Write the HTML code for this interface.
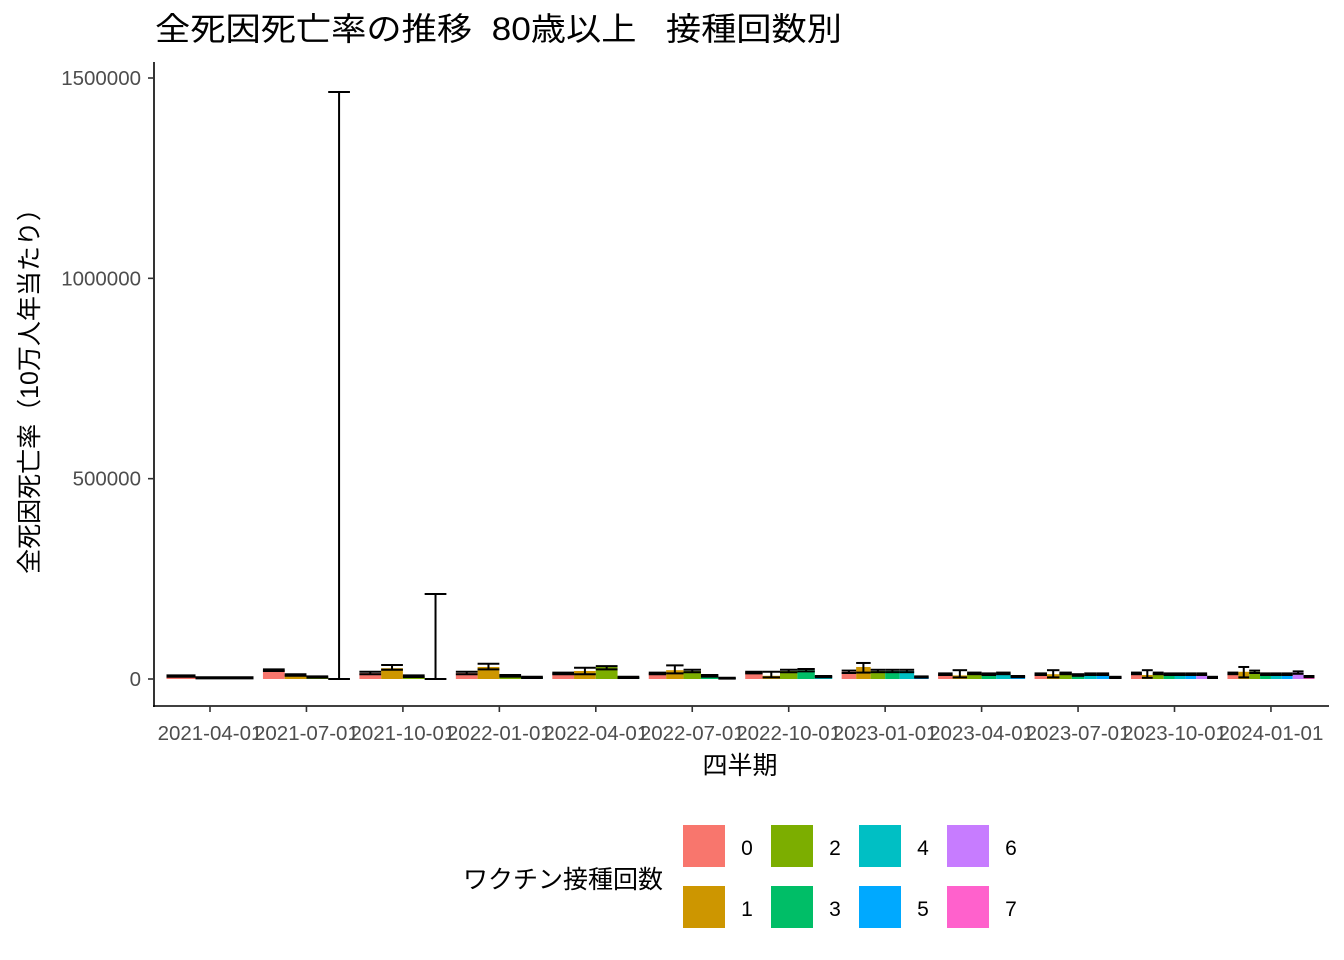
<!DOCTYPE html>
<html><head><meta charset="utf-8">
<style>
html,body{margin:0;padding:0;background:#fff;}
svg{display:block;font-family:"Liberation Sans","Noto Sans CJK JP",sans-serif;}
</style></head>
<body>
<svg id="chart" width="1344" height="960" viewBox="0 0 1344 960">
<text x="155" y="40" font-size="32" fill="#000" style="white-space:pre" textLength="687" lengthAdjust="spacingAndGlyphs">全死因死亡率の推移&#160;&#160;80歳以上&#160;&#160;&#160;接種回数別</text>
<line x1="154" y1="62" x2="154" y2="707" stroke="#000" stroke-width="1.6"/>
<line x1="153" y1="706" x2="1329" y2="706" stroke="#000" stroke-width="1.6"/>
<g id="yticks"></g>
<g id="xticks"></g>
<g id="bars"></g>
<text x="740" y="774" font-size="25" text-anchor="middle" fill="#000">四半期</text>
<text transform="translate(38,385) rotate(-90)" font-size="25" text-anchor="middle" fill="#000">全死因死亡率（10万人年当たり）</text>
<g id="legend">
<text x="463" y="888" font-size="25" fill="#000">ワクチン接種回数</text>
</g>
</svg>
<script>
const categories = ["2021-04-01","2021-07-01","2021-10-01","2022-01-01","2022-04-01","2022-07-01","2022-10-01","2023-01-01","2023-04-01","2023-07-01","2023-10-01","2024-01-01"];
const doseLevels = ["0","1","2","3","4","5","6","7"];
const colors = ["#F8766D","#CD9600","#7CAE00","#00BE67","#00BFC4","#00A9FF","#C77CFF","#FF61CC"];
const values = [
 [7500,3000,3000],
 [22000,10000,5000,0],
 [15000,27000,7000,0],
 [15000,30000,8000,4000],
 [14000,20000,30000,4000],
 [14000,22000,20000,8000,2000],
 [16000,8000,20000,22000,6000],
 [18000,30000,20000,20000,20000,5000],
 [12000,9000,14000,12000,14000,6000],
 [12000,12000,14000,10000,12000,12000,4000],
 [14000,10000,14000,12000,12000,12000,12000,4000],
 [14000,18000,18000,12000,12000,12000,16000,6000]
];
const errLow = [
 [5500,1500,1500],
 [20000,8000,3500,0],
 [12000,23000,5000,0],
 [12000,24000,6000,2500],
 [12000,12000,24000,2500],
 [12000,14000,17000,6000,1000],
 [14000,4000,17000,19000,4500],
 [15000,16000,17000,17000,17000,3500],
 [10000,4000,12000,10000,12000,4500],
 [10000,4000,12000,8000,10000,10000,2500],
 [12000,3000,12000,10000,10000,10000,10000,2500],
 [12000,4000,15000,10000,10000,10000,13000,4500]
];
const errHigh = [
 [9000,4500,4500],
 [24000,12000,6500,1465000],
 [18000,35000,9000,212000],
 [18000,38000,10000,5500],
 [16000,28000,32000,5500],
 [16000,34000,23000,10000,3000],
 [18000,18000,23000,25000,7500],
 [21000,40000,23000,23000,23000,6500],
 [14000,22000,16000,14000,16000,7500],
 [14000,22000,16000,12000,14000,14000,5500],
 [16000,22000,16000,14000,14000,14000,14000,5500],
 [16000,30000,21000,14000,14000,14000,19000,7500]
];
const yTicks = [0,500000,1000000,1500000];
const yTickLabels = ["0","500000","1000000","1500000"];

const NS="http://www.w3.org/2000/svg";
const y0=679, pxPer=601/1500000;
function yScale(v){return y0 - v*pxPer;}
const x0=210, step=96.45, groupW=87;
function xScale(i){return x0 + i*step;}
function mk(tag,attrs,parent){const e=document.createElementNS(NS,tag);for(const k in attrs)e.setAttribute(k,attrs[k]);parent.appendChild(e);return e;}

const yt=document.getElementById('yticks');
yTicks.forEach((v,i)=>{
  const l=mk('line',{x1:148,x2:154,y1:yScale(v),y2:yScale(v),stroke:'#333','stroke-width':1.6},yt);
  
  
  const t=mk('text',{x:141,y:yScale(v)+7,'font-size':20.5,'text-anchor':'end',fill:'#4d4d4d'},yt);
  
  
  t.textContent=yTickLabels[i];
});
const xt=document.getElementById('xticks');
categories.forEach((c,i)=>{
  const x=xScale(i);
  const l=mk('line',{x1:x,x2:x,y1:706,y2:712,stroke:'#333','stroke-width':1.6},xt);
  
  
  const t=mk('text',{x:x,y:740,'font-size':20.5,'text-anchor':'middle',fill:'#4d4d4d'},xt);
  
  
  t.textContent=c;
});
const bg=document.getElementById('bars');
values.forEach((grp,i)=>{
  const n=grp.length, w=groupW/n, left=xScale(i)-groupW/2;
  grp.forEach((v,j)=>{
    const bx=left+j*w;
    const r=mk('rect',{x:bx,y:yScale(v),width:w,height:y0-yScale(v),fill:colors[j]},bg);
    
    
  });
  grp.forEach((v,j)=>{
    const bx=left+j*w, cx=bx+w/2;
    const g=mk('g',{stroke:'#000','stroke-width':2,fill:'none'},bg);
    
    
    const lo=yScale(errLow[i][j]), hi=yScale(errHigh[i][j]);
    mk('line',{x1:cx,x2:cx,y1:lo,y2:hi},g);
    mk('line',{x1:bx,x2:bx+w,y1:lo,y2:lo},g);
    mk('line',{x1:bx,x2:bx+w,y1:hi,y2:hi},g);
  });
});
const lg=document.getElementById('legend');
doseLevels.forEach((d,k)=>{
  const col=Math.floor(k/2), row=k%2;
  const x=683+col*88, y=825+row*61;
  const r=mk('rect',{x:x,y:y,width:42,height:42,fill:colors[k]},lg);
  
  
  const t=mk('text',{x:x+64,y:y+30,'font-size':21,'text-anchor':'middle',fill:'#000'},lg);
  
  
  t.textContent=d;
});
</script>
</body></html>
